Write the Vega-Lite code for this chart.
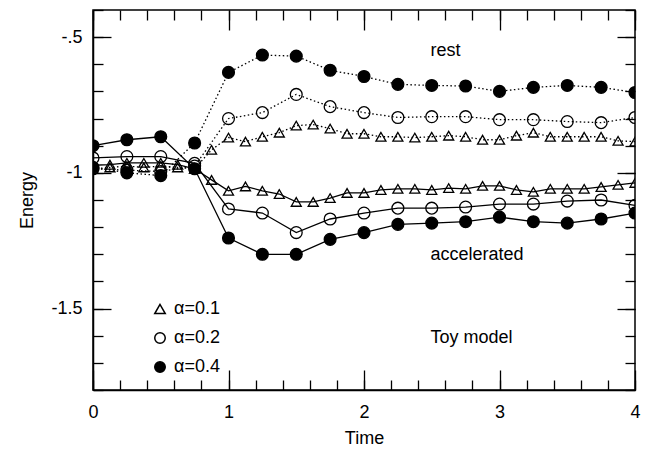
{
  "$schema": "https://vega.github.io/schema/vega-lite/v6.json",
  "width": 542,
  "height": 380,
  "autosize": "none",
  "padding": {"left": 93, "top": 10, "right": 21, "bottom": 59},
  "background": "white",
  "config": {
    "view": {"stroke": "black", "strokeWidth": 1.5},
    "font": "Liberation Sans",
    "axis": {
      "grid": false,
      "domainColor": "black",
      "domainWidth": 1.5,
      "tickColor": "black",
      "tickWidth": 1.3,
      "labelColor": "black",
      "labelFont": "Liberation Sans",
      "labelFontSize": 18,
      "labelFlush": false,
      "titleFont": "Liberation Sans",
      "titleFontSize": 18,
      "titleFontWeight": "normal",
      "titleColor": "black"
    },
    "legend": {
      "labelFont": "Liberation Sans",
      "labelFontSize": 18,
      "labelColor": "black"
    }
  },
  "datasets": {
    "main": [
      {"t": 0, "E": -0.98, "a": "α=0.4", "type": "rest"},
      {"t": 0.25, "E": -1.0, "a": "α=0.4", "type": "rest"},
      {"t": 0.5, "E": -1.01, "a": "α=0.4", "type": "rest"},
      {"t": 0.75, "E": -0.89, "a": "α=0.4", "type": "rest"},
      {"t": 1, "E": -0.63, "a": "α=0.4", "type": "rest"},
      {"t": 1.25, "E": -0.566, "a": "α=0.4", "type": "rest"},
      {"t": 1.5, "E": -0.57, "a": "α=0.4", "type": "rest"},
      {"t": 1.75, "E": -0.622, "a": "α=0.4", "type": "rest"},
      {"t": 2, "E": -0.645, "a": "α=0.4", "type": "rest"},
      {"t": 2.25, "E": -0.674, "a": "α=0.4", "type": "rest"},
      {"t": 2.5, "E": -0.678, "a": "α=0.4", "type": "rest"},
      {"t": 2.75, "E": -0.68, "a": "α=0.4", "type": "rest"},
      {"t": 3, "E": -0.7, "a": "α=0.4", "type": "rest"},
      {"t": 3.25, "E": -0.685, "a": "α=0.4", "type": "rest"},
      {"t": 3.5, "E": -0.678, "a": "α=0.4", "type": "rest"},
      {"t": 3.75, "E": -0.685, "a": "α=0.4", "type": "rest"},
      {"t": 4, "E": -0.704, "a": "α=0.4", "type": "rest"},

      {"t": 0, "E": -0.9, "a": "α=0.4", "type": "accelerated"},
      {"t": 0.25, "E": -0.878, "a": "α=0.4", "type": "accelerated"},
      {"t": 0.5, "E": -0.867, "a": "α=0.4", "type": "accelerated"},
      {"t": 0.75, "E": -0.985, "a": "α=0.4", "type": "accelerated"},
      {"t": 1, "E": -1.24, "a": "α=0.4", "type": "accelerated"},
      {"t": 1.25, "E": -1.3, "a": "α=0.4", "type": "accelerated"},
      {"t": 1.5, "E": -1.3, "a": "α=0.4", "type": "accelerated"},
      {"t": 1.75, "E": -1.245, "a": "α=0.4", "type": "accelerated"},
      {"t": 2, "E": -1.22, "a": "α=0.4", "type": "accelerated"},
      {"t": 2.25, "E": -1.19, "a": "α=0.4", "type": "accelerated"},
      {"t": 2.5, "E": -1.185, "a": "α=0.4", "type": "accelerated"},
      {"t": 2.75, "E": -1.18, "a": "α=0.4", "type": "accelerated"},
      {"t": 3, "E": -1.163, "a": "α=0.4", "type": "accelerated"},
      {"t": 3.25, "E": -1.18, "a": "α=0.4", "type": "accelerated"},
      {"t": 3.5, "E": -1.185, "a": "α=0.4", "type": "accelerated"},
      {"t": 3.75, "E": -1.17, "a": "α=0.4", "type": "accelerated"},
      {"t": 4, "E": -1.148, "a": "α=0.4", "type": "accelerated"},

      {"t": 0, "E": -0.985, "a": "α=0.2", "type": "rest"},
      {"t": 0.25, "E": -0.99, "a": "α=0.2", "type": "rest"},
      {"t": 0.5, "E": -0.995, "a": "α=0.2", "type": "rest"},
      {"t": 0.75, "E": -0.975, "a": "α=0.2", "type": "rest"},
      {"t": 1, "E": -0.8, "a": "α=0.2", "type": "rest"},
      {"t": 1.25, "E": -0.778, "a": "α=0.2", "type": "rest"},
      {"t": 1.5, "E": -0.711, "a": "α=0.2", "type": "rest"},
      {"t": 1.75, "E": -0.756, "a": "α=0.2", "type": "rest"},
      {"t": 2, "E": -0.778, "a": "α=0.2", "type": "rest"},
      {"t": 2.25, "E": -0.796, "a": "α=0.2", "type": "rest"},
      {"t": 2.5, "E": -0.793, "a": "α=0.2", "type": "rest"},
      {"t": 2.75, "E": -0.793, "a": "α=0.2", "type": "rest"},
      {"t": 3, "E": -0.804, "a": "α=0.2", "type": "rest"},
      {"t": 3.25, "E": -0.804, "a": "α=0.2", "type": "rest"},
      {"t": 3.5, "E": -0.811, "a": "α=0.2", "type": "rest"},
      {"t": 3.75, "E": -0.815, "a": "α=0.2", "type": "rest"},
      {"t": 4, "E": -0.796, "a": "α=0.2", "type": "rest"},

      {"t": 0, "E": -0.945, "a": "α=0.2", "type": "accelerated"},
      {"t": 0.25, "E": -0.94, "a": "α=0.2", "type": "accelerated"},
      {"t": 0.5, "E": -0.94, "a": "α=0.2", "type": "accelerated"},
      {"t": 0.75, "E": -0.965, "a": "α=0.2", "type": "accelerated"},
      {"t": 1, "E": -1.133, "a": "α=0.2", "type": "accelerated"},
      {"t": 1.25, "E": -1.148, "a": "α=0.2", "type": "accelerated"},
      {"t": 1.5, "E": -1.22, "a": "α=0.2", "type": "accelerated"},
      {"t": 1.75, "E": -1.17, "a": "α=0.2", "type": "accelerated"},
      {"t": 2, "E": -1.148, "a": "α=0.2", "type": "accelerated"},
      {"t": 2.25, "E": -1.13, "a": "α=0.2", "type": "accelerated"},
      {"t": 2.5, "E": -1.13, "a": "α=0.2", "type": "accelerated"},
      {"t": 2.75, "E": -1.126, "a": "α=0.2", "type": "accelerated"},
      {"t": 3, "E": -1.115, "a": "α=0.2", "type": "accelerated"},
      {"t": 3.25, "E": -1.115, "a": "α=0.2", "type": "accelerated"},
      {"t": 3.5, "E": -1.104, "a": "α=0.2", "type": "accelerated"},
      {"t": 3.75, "E": -1.1, "a": "α=0.2", "type": "accelerated"},
      {"t": 4, "E": -1.12, "a": "α=0.2", "type": "accelerated"},

      {"t": 0, "E": -0.985, "a": "α=0.1", "type": "rest"},
      {"t": 0.125, "E": -0.98, "a": "α=0.1", "type": "rest"},
      {"t": 0.25, "E": -0.975, "a": "α=0.1", "type": "rest"},
      {"t": 0.375, "E": -0.98, "a": "α=0.1", "type": "rest"},
      {"t": 0.5, "E": -0.975, "a": "α=0.1", "type": "rest"},
      {"t": 0.625, "E": -0.98, "a": "α=0.1", "type": "rest"},
      {"t": 0.75, "E": -0.985, "a": "α=0.1", "type": "rest"},
      {"t": 0.875, "E": -0.915, "a": "α=0.1", "type": "rest"},
      {"t": 1, "E": -0.87, "a": "α=0.1", "type": "rest"},
      {"t": 1.125, "E": -0.885, "a": "α=0.1", "type": "rest"},
      {"t": 1.25, "E": -0.867, "a": "α=0.1", "type": "rest"},
      {"t": 1.375, "E": -0.852, "a": "α=0.1", "type": "rest"},
      {"t": 1.5, "E": -0.826, "a": "α=0.1", "type": "rest"},
      {"t": 1.625, "E": -0.822, "a": "α=0.1", "type": "rest"},
      {"t": 1.75, "E": -0.837, "a": "α=0.1", "type": "rest"},
      {"t": 1.875, "E": -0.856, "a": "α=0.1", "type": "rest"},
      {"t": 2, "E": -0.856, "a": "α=0.1", "type": "rest"},
      {"t": 2.125, "E": -0.867, "a": "α=0.1", "type": "rest"},
      {"t": 2.25, "E": -0.867, "a": "α=0.1", "type": "rest"},
      {"t": 2.375, "E": -0.87, "a": "α=0.1", "type": "rest"},
      {"t": 2.5, "E": -0.867, "a": "α=0.1", "type": "rest"},
      {"t": 2.625, "E": -0.863, "a": "α=0.1", "type": "rest"},
      {"t": 2.75, "E": -0.867, "a": "α=0.1", "type": "rest"},
      {"t": 2.875, "E": -0.878, "a": "α=0.1", "type": "rest"},
      {"t": 3, "E": -0.878, "a": "α=0.1", "type": "rest"},
      {"t": 3.125, "E": -0.863, "a": "α=0.1", "type": "rest"},
      {"t": 3.25, "E": -0.852, "a": "α=0.1", "type": "rest"},
      {"t": 3.375, "E": -0.867, "a": "α=0.1", "type": "rest"},
      {"t": 3.5, "E": -0.867, "a": "α=0.1", "type": "rest"},
      {"t": 3.625, "E": -0.867, "a": "α=0.1", "type": "rest"},
      {"t": 3.75, "E": -0.867, "a": "α=0.1", "type": "rest"},
      {"t": 3.875, "E": -0.882, "a": "α=0.1", "type": "rest"},
      {"t": 4, "E": -0.885, "a": "α=0.1", "type": "rest"},

      {"t": 0, "E": -0.972, "a": "α=0.1", "type": "accelerated"},
      {"t": 0.125, "E": -0.97, "a": "α=0.1", "type": "accelerated"},
      {"t": 0.25, "E": -0.963, "a": "α=0.1", "type": "accelerated"},
      {"t": 0.375, "E": -0.963, "a": "α=0.1", "type": "accelerated"},
      {"t": 0.5, "E": -0.963, "a": "α=0.1", "type": "accelerated"},
      {"t": 0.625, "E": -0.97, "a": "α=0.1", "type": "accelerated"},
      {"t": 0.75, "E": -0.985, "a": "α=0.1", "type": "accelerated"},
      {"t": 0.875, "E": -1.026, "a": "α=0.1", "type": "accelerated"},
      {"t": 1, "E": -1.066, "a": "α=0.1", "type": "accelerated"},
      {"t": 1.125, "E": -1.05, "a": "α=0.1", "type": "accelerated"},
      {"t": 1.25, "E": -1.066, "a": "α=0.1", "type": "accelerated"},
      {"t": 1.375, "E": -1.078, "a": "α=0.1", "type": "accelerated"},
      {"t": 1.5, "E": -1.107, "a": "α=0.1", "type": "accelerated"},
      {"t": 1.625, "E": -1.107, "a": "α=0.1", "type": "accelerated"},
      {"t": 1.75, "E": -1.093, "a": "α=0.1", "type": "accelerated"},
      {"t": 1.875, "E": -1.074, "a": "α=0.1", "type": "accelerated"},
      {"t": 2, "E": -1.074, "a": "α=0.1", "type": "accelerated"},
      {"t": 2.125, "E": -1.063, "a": "α=0.1", "type": "accelerated"},
      {"t": 2.25, "E": -1.059, "a": "α=0.1", "type": "accelerated"},
      {"t": 2.375, "E": -1.059, "a": "α=0.1", "type": "accelerated"},
      {"t": 2.5, "E": -1.063, "a": "α=0.1", "type": "accelerated"},
      {"t": 2.625, "E": -1.056, "a": "α=0.1", "type": "accelerated"},
      {"t": 2.75, "E": -1.059, "a": "α=0.1", "type": "accelerated"},
      {"t": 2.875, "E": -1.048, "a": "α=0.1", "type": "accelerated"},
      {"t": 3, "E": -1.048, "a": "α=0.1", "type": "accelerated"},
      {"t": 3.125, "E": -1.063, "a": "α=0.1", "type": "accelerated"},
      {"t": 3.25, "E": -1.07, "a": "α=0.1", "type": "accelerated"},
      {"t": 3.375, "E": -1.059, "a": "α=0.1", "type": "accelerated"},
      {"t": 3.5, "E": -1.059, "a": "α=0.1", "type": "accelerated"},
      {"t": 3.625, "E": -1.059, "a": "α=0.1", "type": "accelerated"},
      {"t": 3.75, "E": -1.052, "a": "α=0.1", "type": "accelerated"},
      {"t": 3.875, "E": -1.044, "a": "α=0.1", "type": "accelerated"},
      {"t": 4, "E": -1.037, "a": "α=0.1", "type": "accelerated"}
    ],
    "notes": [
      {"t": 2.49, "E": -0.552, "label": "rest"},
      {"t": 2.49, "E": -1.304, "label": "accelerated"},
      {"t": 2.49, "E": -1.607, "label": "Toy model"}
    ]
  },
  "resolve": {"axis": {"x": "independent", "y": "independent"}},
  "layer": [
    {
      "data": {"name": "main"},
      "transform": [{"filter": "datum.type == 'rest'"}],
      "mark": {"type": "line", "color": "black", "strokeWidth": 1.3, "strokeDash": [1.5, 2.5], "clip": true},
      "encoding": {
        "x": {"field": "t", "type": "quantitative", "scale": {"domain": [0, 4], "nice": false, "zero": false},
          "axis": {"orient": "bottom", "values": [0, 1, 2, 3, 4], "tickSize": -20, "labelPadding": 33, "title": "Time", "titlePadding": 8, "format": "d"}},
        "y": {"field": "E", "type": "quantitative", "scale": {"domain": [-1.8, -0.4], "nice": false, "zero": false},
          "axis": {"orient": "left", "values": [-1.5, -1, -0.5], "tickSize": -18, "labelPadding": 29, "title": "Energy", "titlePadding": 14,
            "labelExpr": "datum.value == -0.5 ? '-.5' : (datum.value == -1 ? '-1' : '-1.5')"}},
        "detail": {"field": "a"}
      }
    },
    {
      "data": {"name": "main"},
      "transform": [{"filter": "datum.type == 'accelerated'"}],
      "mark": {"type": "line", "color": "black", "strokeWidth": 1.3, "clip": true},
      "encoding": {
        "x": {"field": "t", "type": "quantitative",
          "axis": {"orient": "bottom", "values": [0, 0.2, 0.4, 0.6, 0.8, 1, 1.2, 1.4, 1.6, 1.8, 2, 2.2, 2.4, 2.6, 2.8, 3, 3.2, 3.4, 3.6, 3.8, 4], "tickSize": -10, "labels": false, "domain": false, "title": null}},
        "y": {"field": "E", "type": "quantitative",
          "axis": {"orient": "left", "values": [-1.8, -1.7, -1.6, -1.5, -1.4, -1.3, -1.2, -1.1, -1, -0.9, -0.8, -0.7, -0.6, -0.5, -0.4], "tickSize": -10, "labels": false, "domain": false, "title": null}},
        "detail": {"field": "a"}
      }
    },
    {
      "data": {"name": "main"},
      "mark": {"type": "point", "filled": true, "stroke": "black", "strokeWidth": 1.3, "opacity": 1, "clip": true},
      "encoding": {
        "x": {"field": "t", "type": "quantitative",
          "axis": {"orient": "top", "values": [0, 1, 2, 3, 4], "tickSize": -20, "labels": false, "domain": false, "title": null}},
        "y": {"field": "E", "type": "quantitative",
          "axis": {"orient": "right", "values": [-1.5, -1, -0.5], "tickSize": -18, "labels": false, "domain": false, "title": null}},
        "shape": {"field": "a", "type": "nominal", "scale": {"domain": ["α=0.1", "α=0.2", "α=0.4"], "range": ["triangle-up", "circle", "circle"]},
          "legend": {"title": null, "orient": "none", "legendX": 58, "legendY": 290, "padding": 0, "rowPadding": 11, "labelOffset": 5, "symbolSize": 110,
            "encode": {"symbols": {"update": {"stroke": {"value": "black"}, "strokeWidth": {"value": 1.3}}}}}},
        "fill": {"field": "a", "type": "nominal", "scale": {"domain": ["α=0.1", "α=0.2", "α=0.4"], "range": ["transparent", "transparent", "black"]},
          "legend": {"title": null, "orient": "none", "legendX": 58, "legendY": 290, "padding": 0, "rowPadding": 11, "labelOffset": 5, "symbolSize": 110,
            "encode": {"symbols": {"update": {"stroke": {"value": "black"}, "strokeWidth": {"value": 1.3}}}}}},
        "size": {"condition": {"test": "datum.a == 'α=0.1'", "value": 100}, "value": 140}
      }
    },
    {
      "data": {"name": "notes"},
      "mark": {"type": "text", "align": "left", "baseline": "middle", "fontSize": 18, "font": "Liberation Sans", "color": "black"},
      "encoding": {
        "x": {"field": "t", "type": "quantitative",
          "axis": {"orient": "top", "values": [0, 0.2, 0.4, 0.6, 0.8, 1, 1.2, 1.4, 1.6, 1.8, 2, 2.2, 2.4, 2.6, 2.8, 3, 3.2, 3.4, 3.6, 3.8, 4], "tickSize": -10, "labels": false, "domain": false, "title": null}},
        "y": {"field": "E", "type": "quantitative",
          "axis": {"orient": "right", "values": [-1.8, -1.7, -1.6, -1.5, -1.4, -1.3, -1.2, -1.1, -1, -0.9, -0.8, -0.7, -0.6, -0.5, -0.4], "tickSize": -10, "labels": false, "domain": false, "title": null}},
        "text": {"field": "label"}
      }
    }
  ]
}
